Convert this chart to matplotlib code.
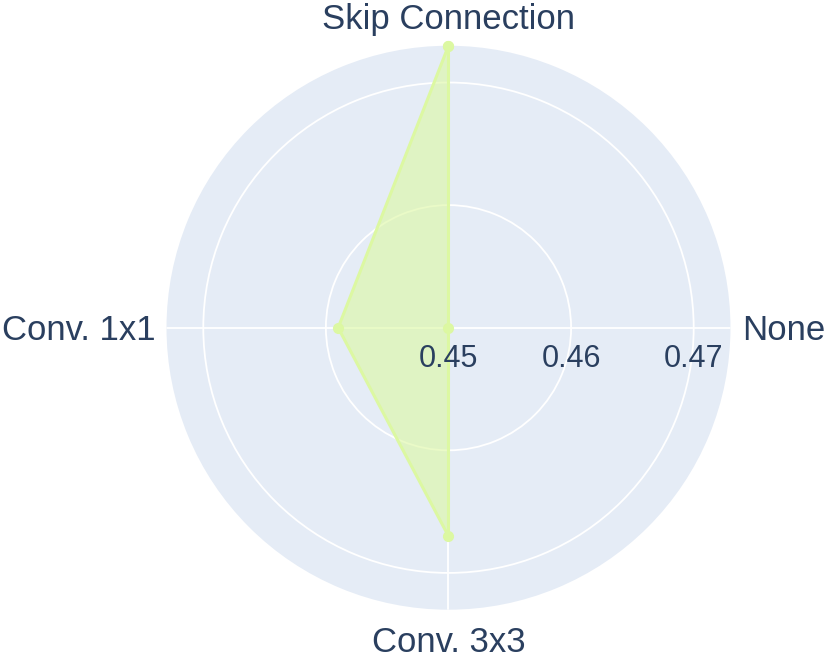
import numpy as np
import matplotlib
matplotlib.use("Agg")
import matplotlib.pyplot as plt
from matplotlib.transforms import offset_copy

# data
categories = ["Skip Connection", "None", "Conv. 3x3", "Conv. 1x1"]
values = [0.473, 0.45, 0.467, 0.459]
r_ticks = [0.45, 0.46, 0.47]
r_max = 0.473

line_color = "#dcf8a2"
text_color = "#2a3f5f"
bg_color = "#e5ecf6"

plt.rcParams["font.family"] = ["Liberation Sans", "DejaVu Sans"]

fig = plt.figure(figsize=(8.3, 6.59), dpi=100)
ax = fig.add_axes([0.2006, 0.0748, 0.6795, 0.8558], projection="polar")
ax.set_theta_zero_location("N")
ax.set_theta_direction(-1)
ax.set_facecolor(bg_color)
ax.spines["polar"].set_visible(False)

angles = np.linspace(0, 2 * np.pi, len(categories), endpoint=False)
theta = np.append(angles, angles[0])
r = values + values[:1]

ax.fill(theta, r, color=line_color, alpha=0.6, lw=0, zorder=2)
ax.plot(theta, r, color=line_color, lw=2.2, marker="o", ms=7,
        clip_on=False, zorder=3)

ax.set_ylim(r_ticks[0], r_max)
ax.set_yticks(r_ticks[1:])
ax.set_yticklabels([])
ax.set_xticks(angles)
ax.set_xticklabels([])
ax.grid(True, color="white", lw=1.3)
ax.set_axisbelow(True)

# category labels (offsets in pixels)
offsets = [(0, 17, "center"), (12, -12, "left"), (0, -42, "center"), (-11, -12, "right")]
for a, lab, (dx, dy, ha) in zip(angles, categories, offsets):
    tr = offset_copy(ax.transData, fig=fig, x=dx, y=dy, units="dots")
    ax.text(a, r_max, lab, transform=tr, ha=ha, va="baseline",
            fontsize=25, color=text_color, clip_on=False)

# radial tick labels along the east axis
tr = offset_copy(ax.transData, fig=fig, x=0, y=-39, units="dots")
for v in r_ticks:
    ax.text(np.pi / 2, v, f"{v:.2f}", transform=tr, ha="center", va="baseline",
            fontsize=22, color=text_color, clip_on=False)

fig.savefig("out.png", dpi=100, facecolor="white")
